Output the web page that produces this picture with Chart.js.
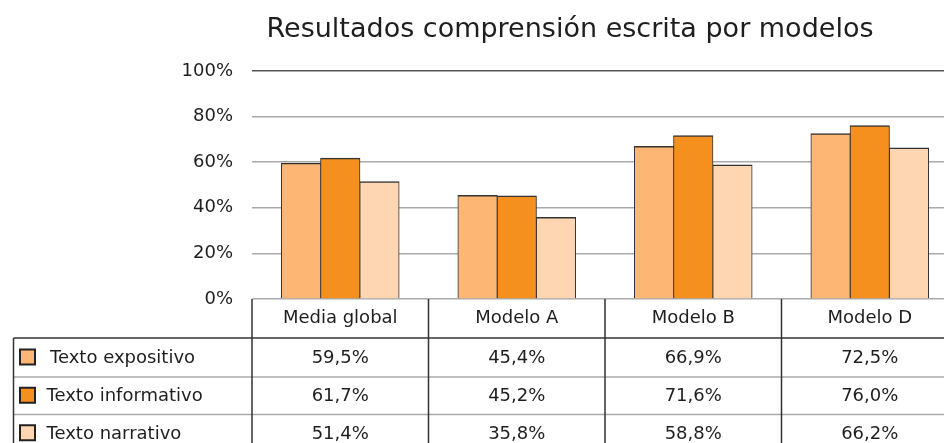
<!DOCTYPE html>
<html>
<head>
<meta charset="utf-8">
<script src="https://cdn.jsdelivr.net/npm/chart.js@4.4.1/dist/chart.umd.min.js"></script>
<style>
  html, body { margin: 0; padding: 0; background: #fff; overflow: hidden; }
  #wrap { width: 944px; height: 443px; overflow: hidden; }
</style>
</head>
<body>
<div id="wrap"><canvas id="modelosChart" width="960" height="443"></canvas></div>
<script>
const titulo = 'Resultados comprensión escrita por modelos';
const modelos = ['Media global', 'Modelo A', 'Modelo B', 'Modelo D'];
const series = ['Texto expositivo', 'Texto informativo', 'Texto narrativo'];
const expositivo = [59.5, 45.4, 66.9, 72.5];
const informativo = [61.7, 45.2, 71.6, 76.0];
const narrativo = [51.4, 35.8, 58.8, 66.2];
const colores = ['#FDB674', '#F5901F', '#FED6B1'];

const FONT = '"DejaVu Sans", sans-serif';
const fmt = v => v.toFixed(1).replace('.', ',') + '%';

// title + data table under the plot, drawn from the x scale
const tablePlugin = {
    id: 'tablePlugin',
    afterDraw(chart) {
        const ctx = chart.ctx;
        const area = chart.chartArea;
        const x = chart.scales.x;
        const catW = (area.right - area.left) / modelos.length;
        const rows = [area.bottom, 338, 377, 414.5, 452];
        const values = [expositivo, informativo, narrativo];
        const leftX = 13.5;

        ctx.save();
        // title
        ctx.fillStyle = '#1e1e1e';
        ctx.font = '27px ' + FONT;
        ctx.textAlign = 'center';
        ctx.textBaseline = 'alphabetic';
        ctx.fillText(titulo, 570, 37);

        // horizontal lines
        ctx.lineWidth = 1.5;
        for (let r = 2; r < rows.length - 1; r++) {
            ctx.strokeStyle = '#aaa';
            ctx.beginPath();
            ctx.moveTo(leftX, rows[r]);
            ctx.lineTo(chart.width, rows[r]);
            ctx.stroke();
        }
        ctx.strokeStyle = '#333';
        ctx.beginPath();
        ctx.moveTo(leftX, rows[1]);
        ctx.lineTo(chart.width, rows[1]);
        ctx.stroke();

        // vertical lines
        ctx.beginPath();
        ctx.moveTo(leftX, rows[1]);
        ctx.lineTo(leftX, chart.height);
        for (let i = 0; i < modelos.length; i++) {
            const bx = x.getPixelForValue(i) - catW / 2;
            ctx.moveTo(bx, rows[0]);
            ctx.lineTo(bx, chart.height);
        }
        ctx.stroke();

        // header
        ctx.fillStyle = '#1e1e1e';
        ctx.font = '18px ' + FONT;
        ctx.textBaseline = 'middle';
        ctx.textAlign = 'center';
        modelos.forEach((m, i) => {
            ctx.fillText(m, x.getPixelForValue(i), (rows[0] + rows[1]) / 2);
        });

        // rows
        series.forEach((s, r) => {
            const cy = (rows[r + 1] + rows[r + 2]) / 2;
            ctx.fillStyle = colores[r];
            ctx.fillRect(20, cy - 8, 15, 15);
            ctx.strokeStyle = '#222';
            ctx.lineWidth = 2;
            ctx.strokeRect(20, cy - 8, 15, 15);
            ctx.fillStyle = '#1e1e1e';
            ctx.textAlign = 'left';
            ctx.fillText(s, r === 0 ? 50 : 46.5, cy + 1);
            ctx.textAlign = 'center';
            values[r].forEach((v, i) => {
                ctx.fillText(fmt(v), x.getPixelForValue(i), cy + 1);
            });
        });
        ctx.restore();
    }
};

const ctx = document.getElementById('modelosChart').getContext('2d');
new Chart(ctx, {
    type: 'bar',
    data: {
        labels: modelos,
        datasets: [
            { label: series[0], data: expositivo, backgroundColor: colores[0] },
            { label: series[1], data: informativo, backgroundColor: colores[1] },
            { label: series[2], data: narrativo, backgroundColor: colores[2] }
        ].map(d => Object.assign(d, {
            borderColor: '#333',
            borderWidth: { top: 1.5, left: 1, right: 1, bottom: 0 },
            inflateAmount: 0.5
        }))
    },
    options: {
        responsive: false,
        animation: false,
        layout: { padding: { top: 71, right: 2, left: 0, bottom: 0 } },
        datasets: {
            bar: { categoryPercentage: 0.666, barPercentage: 1 }
        },
        plugins: {
            legend: { display: false },
            title: { display: false },
            tooltip: { enabled: false }
        },
        scales: {
            x: {
                ticks: { display: false },
                grid: { display: false },
                border: { display: false },
                afterFit(scale) { scale.height = 144; }
            },
            y: {
                min: 0,
                max: 100,
                ticks: {
                    stepSize: 20,
                    padding: 19,
                    color: '#1e1e1e',
                    font: { family: FONT, size: 18 },
                    callback: v => v + '%'
                },
                grid: {
                    drawTicks: false,
                    lineWidth: 1.5,
                    color: c => (c.tick && c.tick.value === 100) ? '#555' : '#aaa'
                },
                border: { display: false },
                afterFit(scale) { scale.width = 252; }
            }
        }
    },
    plugins: [tablePlugin]
});
</script>
</body>
</html>
